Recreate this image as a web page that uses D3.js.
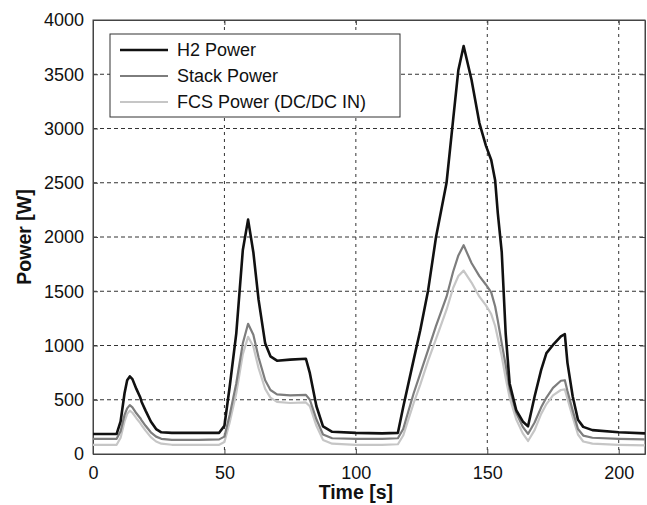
<!DOCTYPE html>
<html>
<head>
<meta charset="utf-8">
<script src="https://cdn.jsdelivr.net/npm/d3@7"></script>
<style>
  body { margin: 0; background: #fff; }
  svg { display: block; font-family: "Liberation Sans", Arial, sans-serif; }
</style>
</head>
<body>
<svg id="chart" width="647" height="505"></svg>
<script>
// time samples [s]
const time = [0, 9, 10.5, 12, 13, 14, 15, 16.5, 18, 18.5, 20, 22, 24, 26, 30, 40, 48, 50, 52, 54.5,
  57, 59, 61, 63, 65.5, 67.5, 70, 75, 81, 82.5, 85, 87.5, 91, 100, 110, 116, 118, 122, 124.5, 127.5,
  130.5, 134.5, 137, 139, 141, 144, 147, 149.5, 151.5, 153, 154, 155.5, 157, 158.5, 161, 163.5, 165.5,
  168, 170.5, 172.5, 175, 178, 179.5, 180.5, 182.5, 184.5, 186.5, 190, 200, 210];

const h2Power = [185, 185, 300, 560, 680, 715, 690, 600, 520, 480, 400, 300, 230, 200, 195, 195, 195, 260, 620, 1110,
  1880, 2160, 1860, 1420, 1020, 900, 860, 870, 878, 745, 440, 255, 205, 195, 190, 195, 430, 870, 1140, 1510,
  2000, 2500, 3080, 3540, 3760, 3450, 3050, 2840, 2710, 2520, 2220, 1860, 1110, 650, 405, 300, 255,
  530, 775, 930, 1005, 1085, 1105, 840, 530, 315, 250, 220, 200, 190];

const stackPower = [140, 140, 210, 360, 420, 450, 430, 375, 330, 310, 260, 200, 160, 140, 130, 130, 135, 160, 360, 650,
  1020, 1200, 1100, 890, 680, 590, 550, 540, 545, 500, 320, 180, 145, 140, 140, 145, 230, 560, 740, 960,
  1180, 1450, 1680, 1830, 1925, 1760, 1640, 1560, 1490, 1360, 1230, 1020, 820, 600, 380, 250, 185,
  290, 430, 520, 610, 675, 680, 580, 400, 230, 170, 150, 140, 135];

const fcsPower = [85, 85, 150, 300, 370, 400, 380, 330, 285, 265, 215, 155, 115, 95, 85, 85, 85, 110, 290, 560,
  920, 1080, 990, 790, 600, 520, 480, 470, 475, 440, 260, 130, 95, 85, 85, 90, 170, 470, 640, 860,
  1060, 1330, 1530, 1640, 1690, 1580, 1450, 1370, 1290, 1180, 1070, 900, 700, 520, 320, 190, 120,
  220, 370, 460, 540, 590, 595, 510, 340, 180, 115, 95, 85, 80];

const seriesNames = ["H2 Power", "Stack Power", "FCS Power (DC/DC IN)"];
const xTicks = [0, 50, 100, 150, 200];
const yTicks = [0, 500, 1000, 1500, 2000, 2500, 3000, 3500, 4000];

const svg = d3.select("#chart");
const margin = { top: 20, right: 2, bottom: 51, left: 93 };
const W = 647 - margin.left - margin.right;
const H = 505 - margin.top - margin.bottom;

const x = d3.scaleLinear().domain([0, 210]).range([0, W]);
const y = d3.scaleLinear().domain([0, 4000]).range([H, 0]);

const g = svg.append("g").attr("transform", `translate(${margin.left},${margin.top})`);

// grid
g.append("g").selectAll("line").data(xTicks.filter(d => d > 0)).join("line")
  .attr("x1", d => x(d)).attr("x2", d => x(d)).attr("y1", 0).attr("y2", H)
  .attr("stroke", "#333").attr("stroke-width", 1).attr("stroke-dasharray", "3,4");
g.append("g").selectAll("line").data(yTicks.filter(d => d > 0 && d < 4000)).join("line")
  .attr("x1", 0).attr("x2", W).attr("y1", d => y(d)).attr("y2", d => y(d))
  .attr("stroke", "#333").attr("stroke-width", 1).attr("stroke-dasharray", "4,3");

// axes (MATLAB style, inward ticks)
const fmt = d3.format("d");
g.append("g").attr("transform", `translate(0,${H})`)
  .call(d3.axisBottom(x).tickValues(xTicks).tickFormat(fmt).tickSizeInner(-5).tickSizeOuter(0).tickPadding(12));
g.append("g")
  .call(d3.axisLeft(y).tickValues(yTicks).tickFormat(fmt).tickSizeInner(-5).tickSizeOuter(0).tickPadding(9));
g.append("g").call(d3.axisTop(x).tickValues(xTicks).tickSizeInner(-5).tickSizeOuter(0).tickFormat(""));
g.append("g").attr("transform", `translate(${W},0)`)
  .call(d3.axisRight(y).tickValues(yTicks).tickSizeInner(-5).tickSizeOuter(0).tickFormat(""));

g.selectAll(".domain").attr("stroke", "#444");
g.selectAll(".tick line").attr("stroke", "#444");
g.selectAll(".tick text").attr("font-size", 18).attr("fill", "#111")
  .attr("font-family", "'Liberation Sans', Arial, sans-serif");

// box
g.append("rect").attr("x", 0).attr("y", 0).attr("width", W).attr("height", H)
  .attr("fill", "none").attr("stroke", "#444").attr("stroke-width", 1);

// lines
const series = [
  { name: seriesNames[0], values: h2Power, color: "#111", width: 2.6 },
  { name: seriesNames[1], values: stackPower, color: "#7d7d7d", width: 2.2 },
  { name: seriesNames[2], values: fcsPower, color: "#c6c6c6", width: 2.2 }
];

const line = d3.line().x(d => x(d[0])).y(d => y(d[1]));
// draw light first so darker sit on top
series.slice().reverse().forEach(s => {
  g.append("path")
    .datum(time.map((t, i) => [t, s.values[i]]))
    .attr("fill", "none").attr("stroke", s.color).attr("stroke-width", s.width)
    .attr("stroke-linejoin", "round").attr("d", line);
});

// legend
const lg = svg.append("g").attr("transform", "translate(110,34)");
lg.append("rect").attr("width", 290).attr("height", 83)
  .attr("fill", "#fff").attr("stroke", "#333").attr("stroke-width", 1);
series.forEach((s, i) => {
  const ly = 16 + i * 26;
  lg.append("line").attr("x1", 10).attr("x2", 58).attr("y1", ly).attr("y2", ly)
    .attr("stroke", s.color).attr("stroke-width", s.width);
  lg.append("text").attr("x", 67).attr("y", ly).attr("dy", "0.35em")
    .attr("font-size", 18).attr("fill", "#111").text(s.name);
});

// axis titles
svg.append("text").attr("x", margin.left + x(100)).attr("y", 499)
  .attr("text-anchor", "middle").attr("font-size", 19.5).attr("font-weight", "bold")
  .attr("fill", "#111").text("Time [s]");
svg.append("text").attr("transform", `translate(31,${margin.top + H / 2}) rotate(-90)`)
  .attr("text-anchor", "middle").attr("font-size", 19.5).attr("font-weight", "bold")
  .attr("fill", "#111").text("Power [W]");
</script>
</body>
</html>
